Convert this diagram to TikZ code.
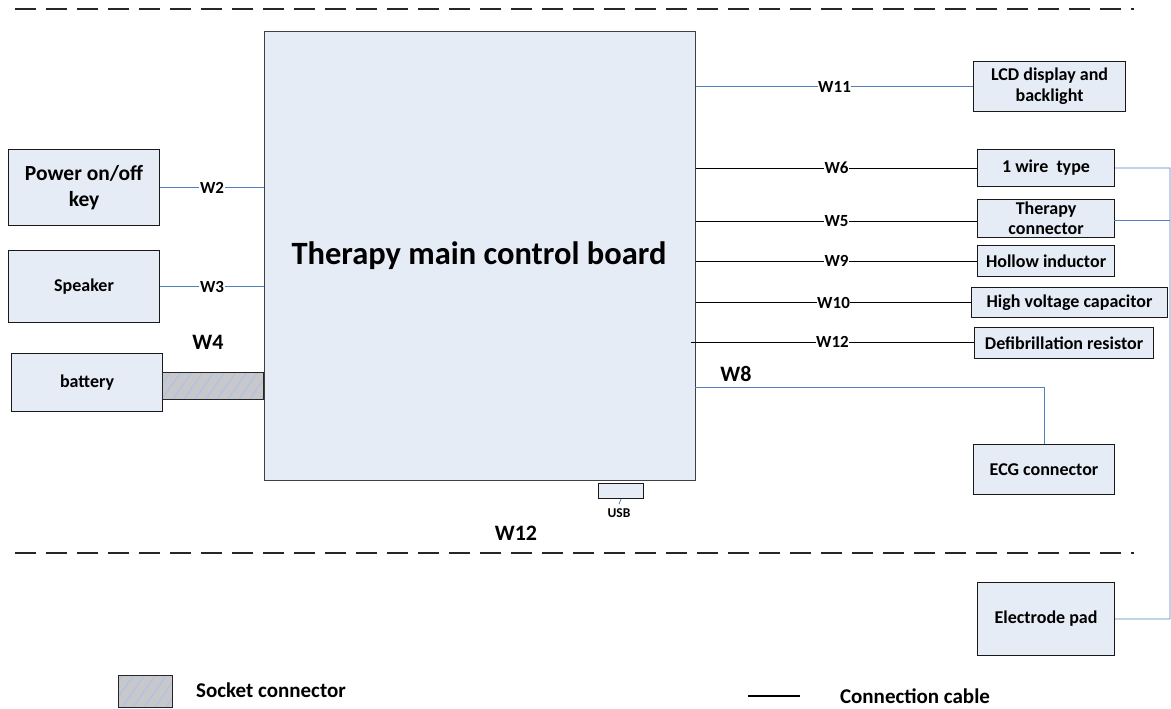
\documentclass[tikz,border=0pt]{standalone}
\usepackage{fontspec}
\setmainfont{Carlito}
\usetikzlibrary{patterns.meta}
\definecolor{boxfill}{RGB}{230,236,246}
\definecolor{wire}{RGB}{79,129,189}
\definecolor{sock}{RGB}{200,200,204}
\definecolor{hatchc}{RGB}{175,195,225}
\begin{document}
\begin{tikzpicture}[x=1pt,y=-1pt,
  box/.style={draw=black!90, line width=1.1pt, fill=boxfill, rectangle, inner sep=0pt, align=center, anchor=north west, font=\bfseries\fontsize{18}{21}\selectfont},
  lbl/.style={fill=white, inner sep=0.6pt, font=\bfseries\fontsize{17}{19}\selectfont},
  biglbl/.style={inner sep=0pt, font=\bfseries\fontsize{22}{24}\selectfont},
  bluewire/.style={draw=wire, line width=0.8pt},
  blackwire/.style={draw=black, line width=0.9pt},
  socket/.style={draw=black!85, line width=1.1pt, preaction={fill=sock}, pattern={Lines[angle=55,distance=9pt,line width=1.2pt]}, pattern color=hatchc, inner sep=0pt, anchor=north west},
  sep/.style={draw=black!85, line width=2pt, dash pattern=on 21pt off 10pt}
]
\useasboundingbox (0,0) rectangle (1171,709);
% separators
\draw[sep] (15,9) -- (1134,9);
\draw[sep] (15,553) -- (1134,553);
% main board
\node[box, draw=black!75, minimum width=431pt, minimum height=449pt] (board) at (264,31) {};
\node[font=\bfseries\fontsize{32.5}{36}\selectfont, inner sep=0pt] (boardtxt) at (479,256) {Therapy main control board};
% left boxes
\node[box, minimum width=151pt, minimum height=76pt, font=\bfseries\fontsize{21.5}{26}\selectfont] (power) at (8,149) {Power on/off\\key};
\node[box, minimum width=151pt, minimum height=72pt] (speaker) at (8,250) {Speaker};
\node[box, minimum width=151pt, minimum height=58pt] (battery) at (11,353) {battery};
\node[socket, minimum width=101pt, minimum height=27pt] (sockc) at (162,372) {};
\node[biglbl] (w4) at (208,342) {W4};
\draw[bluewire] (power.east) -- node[lbl] (w2) {W2} (power.east -| board.west);
\draw[bluewire] (speaker.east) -- node[lbl] (w3) {W3} (speaker.east -| board.west);
% right boxes
\node[box, minimum width=152pt, minimum height=50pt] (lcd) at (973,61) {LCD display and\\backlight};
\node[box, minimum width=137pt, minimum height=37pt] (onewire) at (977,149) {1 wire\ \ type};
\node[box, minimum width=137pt, minimum height=38pt, font=\bfseries\fontsize{18}{20}\selectfont] (therapy) at (977,199) {Therapy\\connector};
\node[box, minimum width=137pt, minimum height=31pt] (hollow) at (977,245) {Hollow inductor};
\node[box, minimum width=196pt, minimum height=30pt] (hvcap) at (971,287) {High voltage capacitor};
\node[box, minimum width=179pt, minimum height=31pt] (defib) at (974,327) {Defibrillation resistor};
\node[box, minimum width=141pt, minimum height=50pt] (ecg) at (973,444) {ECG connector};
\node[box, minimum width=137pt, minimum height=73pt] (pad) at (977,582) {Electrode pad};
% wires to the right
\draw[bluewire] (board.east |- lcd.west) -- node[lbl] (w11) {W11} (lcd.west);
\draw[blackwire] (board.east |- onewire.west) -- node[lbl] (w6) {W6} (onewire.west);
\coordinate (c5) at (977,221);
\draw[blackwire] (board.east |- c5) -- node[lbl] (w5) {W5} (c5);
\draw[blackwire] (board.east |- hollow.west) -- node[lbl] (w9) {W9} (hollow.west);
\draw[blackwire] (board.east |- hvcap.west) -- node[lbl] (w10) {W10} (hvcap.west);
\coordinate (c12) at (691,342);
\draw[blackwire] (c12) -- node[lbl] (w12) {W12} (c12 -| defib.west);
% W8
\coordinate (c8) at (695,387);
\node[biglbl] (w8) at (736,374) {W8};
\draw[bluewire] (c8) -| (ecg.north);
% electrode bus
\coordinate (bus) at (1170,168);
\coordinate (c5r) at (1114,220);
\draw[bluewire] (pad.east) -| (bus) -- (onewire.east);
\draw[bluewire] (c5r) -- (c5r -| bus);
% USB
\node[box, minimum width=45pt, minimum height=15pt] (usb) at (598,483) {};
\coordinate (usbend) at (619,504);
\draw[bluewire] (usb.south) -- (usbend);
\node[inner sep=0pt, font=\bfseries\fontsize{13.5}{15}\selectfont] (usbtxt) at (619,513) {USB};
\node[biglbl] (w12b) at (516,533) {W12};
% legend
\node[socket, minimum width=54pt, minimum height=32pt] (legsock) at (118,675) {};
\node[inner sep=0pt, font=\bfseries\fontsize{21}{24}\selectfont] (legsocktxt) at (271,690) {Socket connector};
\coordinate (la) at (748,696);
\coordinate (lb) at (800,696);
\draw[black, line width=2pt] (la) -- (lb);
\node[inner sep=0pt, font=\bfseries\fontsize{21}{24}\selectfont] (legcabtxt) at (915,696) {Connection cable};
\end{tikzpicture}
\end{document}
